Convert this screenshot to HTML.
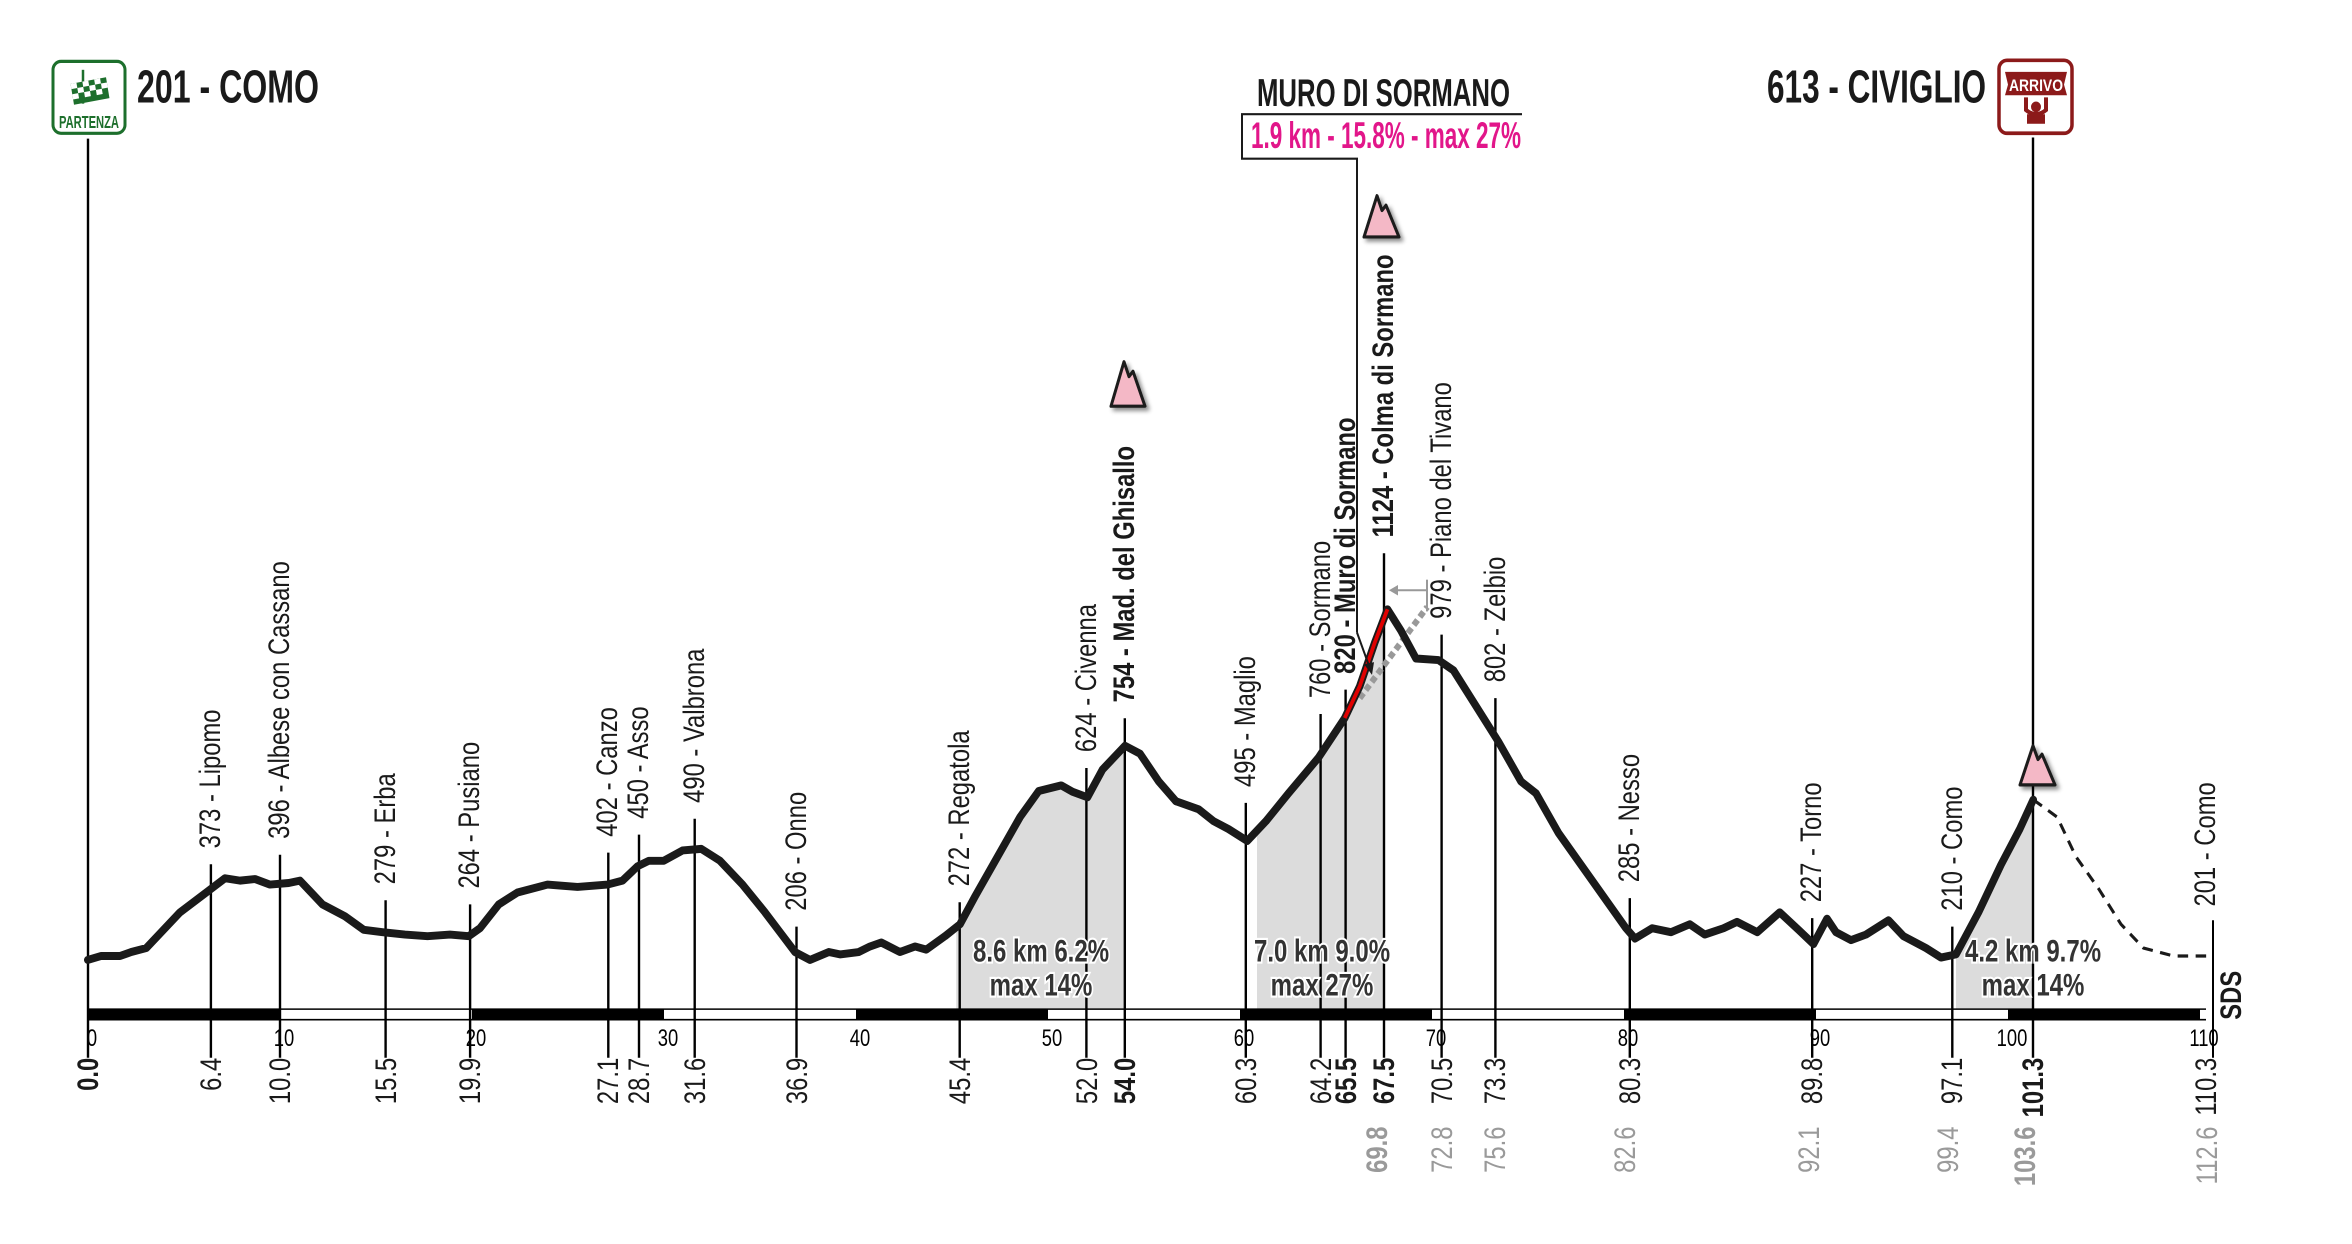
<!DOCTYPE html>
<html><head><meta charset="utf-8"><style>
html,body{margin:0;padding:0;background:#fff;}
svg{display:block;}
text{font-family:"Liberation Sans",sans-serif;}
</style></head><body>
<svg width="2352" height="1244" viewBox="0 0 2352 1244" xmlns="http://www.w3.org/2000/svg">
<defs>
<filter id="sh" x="-30%" y="-30%" width="180%" height="180%"><feDropShadow dx="3" dy="3" stdDeviation="2" flood-color="#000" flood-opacity="0.45"/></filter>
</defs>
<g transform="scale(1,1.0578)">

<!-- gray fills -->
<g fill="#dcdcdc">
<polygon transform="scale(0.75)" points="1275,1163 1280,1165 1300,1130 1330,1080 1360,1030 1385,997 1415,990 1430,998 1450,1005 1470,970 1498,940 1498,1272 1275,1272"/>
<polygon transform="translate(1176,0) scale(0.75)" points="108,1048 120,1035 150,1000 190,955 225,905 245,865 265,810 278,772 278,1272 108,1272"/>
<polygon transform="translate(1176,0) scale(0.75)" points="1040,1203 1070,1150 1100,1090 1125,1045 1143,1008 1143,1272 1040,1272"/>
</g>

<!-- bar -->
<line x1="88" y1="954" x2="2206" y2="954" stroke="#000" stroke-width="1.5"/>
<line x1="88" y1="964" x2="2206" y2="964" stroke="#000" stroke-width="1.5"/>
<g fill="#000">
<rect x="88" y="954" width="192" height="10"/>
<rect x="472" y="954" width="192" height="10"/>
<rect x="856" y="954" width="192" height="10"/>
<rect x="1240" y="954" width="192" height="10"/>
<rect x="1624" y="954" width="192" height="10"/>
<rect x="2008" y="954" width="192" height="10"/>
</g>
<line x1="2213" y1="870" x2="2213" y2="1000" stroke="#000" stroke-width="2"/>

<!-- km tick numbers -->
<g font-size="23" text-anchor="middle" fill="#000">
<text transform="translate(92,989) scale(0.8,1)">0</text><text transform="translate(284,989) scale(0.8,1)">10</text><text transform="translate(476,989) scale(0.8,1)">20</text>
<text transform="translate(668,989) scale(0.8,1)">30</text><text transform="translate(860,989) scale(0.8,1)">40</text><text transform="translate(1052,989) scale(0.8,1)">50</text>
<text transform="translate(1244,989) scale(0.8,1)">60</text><text transform="translate(1436,989) scale(0.8,1)">70</text><text transform="translate(1628,989) scale(0.8,1)">80</text>
<text transform="translate(1820,989) scale(0.8,1)">90</text><text transform="translate(2012,989) scale(0.8,1)">100</text><text transform="translate(2204,989) scale(0.8,1)">110</text>
</g>

<!-- vertical tick lines -->
<g stroke="#000" stroke-width="2.4">
<line x1="88" y1="131" x2="88" y2="1000"/>
<line x1="210.9" y1="817" x2="210.9" y2="1000"/>
<line x1="280" y1="808" x2="280" y2="1000"/>
<line x1="385.6" y1="851" x2="385.6" y2="1000"/>
<line x1="470.1" y1="855" x2="470.1" y2="1000"/>
<line x1="608.3" y1="806" x2="608.3" y2="1000"/>
<line x1="639" y1="789" x2="639" y2="1000"/>
<line x1="694.7" y1="774" x2="694.7" y2="1000"/>
<line x1="796.5" y1="876" x2="796.5" y2="1000"/>
<line x1="959.7" y1="853" x2="959.7" y2="1000"/>
<line x1="1086.4" y1="726" x2="1086.4" y2="1000"/>
<line x1="1124.8" y1="679" x2="1124.8" y2="1000"/>
<line x1="1245.8" y1="759" x2="1245.8" y2="1000"/>
<line x1="1320.6" y1="675" x2="1320.6" y2="1000"/>
<line x1="1345.6" y1="652" x2="1345.6" y2="1000"/>
<line x1="1384" y1="523" x2="1384" y2="1000"/>
<line x1="1441.6" y1="600" x2="1441.6" y2="1000"/>
<line x1="1495.4" y1="660" x2="1495.4" y2="1000"/>
<line x1="1629.8" y1="849" x2="1629.8" y2="1000"/>
<line x1="1812.2" y1="868" x2="1812.2" y2="1000"/>
<line x1="1952.3" y1="876" x2="1952.3" y2="1000"/>
<line x1="2033" y1="130" x2="2033" y2="1000"/>
</g>

<!-- gray dotted bypass and arrow -->
<line transform="translate(1176,0) scale(0.75)" x1="245" y1="880" x2="335" y2="765" stroke="#999" stroke-width="8" stroke-dasharray="8,5"/>
<g stroke="#999" stroke-width="2" fill="none">
<line x1="1391" y1="558" x2="1427" y2="558"/>
<line x1="1427" y1="548" x2="1427" y2="578"/>
</g>
<polygon points="1389,558 1398,553 1398,563" fill="#999"/>

<!-- profile -->
<g fill="none" stroke="#1a1a1a" stroke-width="10" stroke-linejoin="round" stroke-linecap="round">
<polyline transform="scale(0.75)" points="117,1210 135,1205 160,1205 175,1200 195,1195 215,1175 240,1150 275,1125 300,1107 320,1110 340,1108 360,1115 385,1113 400,1110 430,1140 460,1155 485,1172 510,1175 540,1178 570,1180 600,1178 625,1180 640,1170 665,1140 690,1125 730,1115 770,1118 810,1115 830,1110 850,1092 865,1085 885,1085 910,1072 935,1070 960,1085 990,1115 1020,1150 1040,1175 1060,1200 1080,1210 1105,1200 1120,1203 1145,1200 1160,1193 1175,1188 1200,1200 1220,1193 1235,1197 1260,1180 1280,1165 1300,1130 1330,1080 1360,1030 1385,997 1415,990 1430,998 1450,1005 1470,970 1500,940 1520,950 1545,985 1568,1010"/>
<polyline transform="translate(1176,0) scale(0.75)" points="0,1010 30,1020 50,1035 70,1045 95,1060 120,1035 150,1000 190,955 225,905 245,865 265,810 282,768 300,795 320,830 350,832 370,845 400,890 430,935 460,985 480,1000 510,1050 540,1090 570,1130 600,1170 612,1183 635,1170 660,1175 685,1165 705,1178 730,1170 748,1162 775,1175 805,1150 830,1172 850,1190 868,1158 880,1175 900,1185 920,1178 950,1160 970,1180 1000,1195 1020,1207 1040,1203 1070,1150 1100,1090 1125,1045 1143,1008"/>
</g>
<polyline transform="translate(1176,0) scale(0.75)" points="1143,1008 1175,1030 1200,1080 1230,1120 1260,1165 1290,1195 1330,1205 1380,1205" fill="none" stroke="#1a1a1a" stroke-width="4" stroke-dasharray="14,10"/>
<polyline transform="translate(1176,0) scale(0.75)" points="225,905 245,865 265,810 282,768" fill="none" stroke="#e00000" stroke-width="5"/>

<!-- climb boxes text -->
<g font-size="30" font-weight="bold" text-anchor="middle" fill="#333" stroke="#fff" stroke-width="4" paint-order="stroke">
<text transform="translate(1041,909) scale(0.8,1)">8.6 km 6.2%</text>
<text transform="translate(1041,941) scale(0.8,1)">max  14%</text>
<text transform="translate(1322,909) scale(0.8,1)">7.0 km 9.0%</text>
<text transform="translate(1322,941) scale(0.8,1)">max  27%</text>
<text transform="translate(2033,909) scale(0.8,1)">4.2 km 9.7%</text>
<text transform="translate(2033,941) scale(0.8,1)">max  14%</text>
</g>

<!-- place labels -->
<g font-size="30" fill="#1a1a1a">
<text transform="translate(220,802) rotate(-90) scale(0.75,1)">373 - Lipomo</text>
<text transform="translate(289,793) rotate(-90) scale(0.75,1)">396 - Albese con Cassano</text>
<text transform="translate(395,836) rotate(-90) scale(0.75,1)">279 - Erba</text>
<text transform="translate(479,840) rotate(-90) scale(0.75,1)">264 - Pusiano</text>
<text transform="translate(617,791) rotate(-90) scale(0.75,1)">402 - Canzo</text>
<text transform="translate(648,774) rotate(-90) scale(0.75,1)">450 - Asso</text>
<text transform="translate(704,759) rotate(-90) scale(0.75,1)">490 - Valbrona</text>
<text transform="translate(806,861) rotate(-90) scale(0.75,1)">206 - Onno</text>
<text transform="translate(969,838) rotate(-90) scale(0.75,1)">272 - Regatola</text>
<text transform="translate(1096,711) rotate(-90) scale(0.75,1)">624 - Civenna</text>
<text transform="translate(1134,664) rotate(-90) scale(0.75,1)" font-weight="bold">754 - Mad. del Ghisallo</text>
<text transform="translate(1255,744) rotate(-90) scale(0.75,1)">495 - Maglio</text>
<text transform="translate(1330,660) rotate(-90) scale(0.75,1)">760 - Sormano</text>
<text transform="translate(1355,637) rotate(-90) scale(0.75,1)" font-weight="bold">820 - Muro di Sormano</text>
<text transform="translate(1393,508) rotate(-90) scale(0.75,1)" font-weight="bold">1124 - Colma di Sormano</text>
<text transform="translate(1451,585) rotate(-90) scale(0.75,1)">979 - Piano del Tivano</text>
<text transform="translate(1505,645) rotate(-90) scale(0.75,1)">802 - Zelbio</text>
<text transform="translate(1639,834) rotate(-90) scale(0.75,1)">285 - Nesso</text>
<text transform="translate(1821,853) rotate(-90) scale(0.75,1)">227 - Torno</text>
<text transform="translate(1962,861) rotate(-90) scale(0.75,1)">210 - Como</text>
<text transform="translate(2215,857) rotate(-90) scale(0.75,1)">201 - Como</text>
<text transform="translate(2241,964) rotate(-90) scale(0.75,1)" font-weight="bold">SDS</text>
</g>

<!-- km labels -->
<g font-size="30" fill="#1a1a1a" text-anchor="end">
<text transform="translate(98,1000) rotate(-90) scale(0.75,1)" font-weight="bold">0.0</text>
<text transform="translate(221,1000) rotate(-90) scale(0.75,1)">6.4</text>
<text transform="translate(290,1000) rotate(-90) scale(0.75,1)">10.0</text>
<text transform="translate(396,1000) rotate(-90) scale(0.75,1)">15.5</text>
<text transform="translate(480,1000) rotate(-90) scale(0.75,1)">19.9</text>
<text transform="translate(618,1000) rotate(-90) scale(0.75,1)">27.1</text>
<text transform="translate(649,1000) rotate(-90) scale(0.75,1)">28.7</text>
<text transform="translate(705,1000) rotate(-90) scale(0.75,1)">31.6</text>
<text transform="translate(807,1000) rotate(-90) scale(0.75,1)">36.9</text>
<text transform="translate(970,1000) rotate(-90) scale(0.75,1)">45.4</text>
<text transform="translate(1097,1000) rotate(-90) scale(0.75,1)">52.0</text>
<text transform="translate(1135,1000) rotate(-90) scale(0.75,1)" font-weight="bold">54.0</text>
<text transform="translate(1256,1000) rotate(-90) scale(0.75,1)">60.3</text>
<text transform="translate(1331,1000) rotate(-90) scale(0.75,1)">64.2</text>
<text transform="translate(1356,1000) rotate(-90) scale(0.75,1)" font-weight="bold">65.5</text>
<text transform="translate(1394,1000) rotate(-90) scale(0.75,1)" font-weight="bold">67.5</text>
<text transform="translate(1452,1000) rotate(-90) scale(0.75,1)">70.5</text>
<text transform="translate(1505,1000) rotate(-90) scale(0.75,1)">73.3</text>
<text transform="translate(1640,1000) rotate(-90) scale(0.75,1)">80.3</text>
<text transform="translate(1822,1000) rotate(-90) scale(0.75,1)">89.8</text>
<text transform="translate(1962,1000) rotate(-90) scale(0.75,1)">97.1</text>
<text transform="translate(2043,1000) rotate(-90) scale(0.75,1)" font-weight="bold">101.3</text>
<text transform="translate(2216,1000) rotate(-90) scale(0.75,1)">110.3</text>
</g>
<g font-size="30" fill="#9a9a9a" text-anchor="end">
<text transform="translate(1387,1065) rotate(-90) scale(0.75,1)" font-weight="bold">69.8</text>
<text transform="translate(1452,1065) rotate(-90) scale(0.75,1)">72.8</text>
<text transform="translate(1505,1065) rotate(-90) scale(0.75,1)">75.6</text>
<text transform="translate(1635,1065) rotate(-90) scale(0.75,1)">82.6</text>
<text transform="translate(1819,1065) rotate(-90) scale(0.75,1)">92.1</text>
<text transform="translate(1958,1065) rotate(-90) scale(0.75,1)">99.4</text>
<text transform="translate(2035,1065) rotate(-90) scale(0.75,1)" font-weight="bold">103.6</text>
<text transform="translate(2217,1065) rotate(-90) scale(0.75,1)">112.6</text>
</g>

<!-- mountain icons -->
<g fill="#f4b8c6" stroke="#1a1a1a" stroke-width="3" stroke-linejoin="round" filter="url(#sh)">
<polygon points="1111,384 1124,342 1129,356 1133,351 1145,384"/>
<polygon points="1364,224 1377,185 1382,199 1386,194 1399,224"/>
<polygon points="2020,742 2033,705 2038,718 2042,713 2055,742"/>
</g>

<!-- headers -->
<text x="137" y="97" font-size="44" font-weight="bold" fill="#1a1a1a" textLength="182" lengthAdjust="spacingAndGlyphs">201 - COMO</text>
<text x="1767" y="97" font-size="44" font-weight="bold" fill="#1a1a1a" textLength="219" lengthAdjust="spacingAndGlyphs">613 - CIVIGLIO</text>
<text x="1257" y="100" font-size="37" font-weight="bold" fill="#1a1a1a" textLength="253" lengthAdjust="spacingAndGlyphs">MURO DI SORMANO</text>
<polyline points="1522,108 1242,108 1242,150 1357,150 1357,598" fill="none" stroke="#1a1a1a" stroke-width="2"/>
<polyline points="1357,598 1370,632" fill="none" stroke="#1a1a1a" stroke-width="2"/>
<polygon points="1372,638 1364,628 1374,626" fill="#1a1a1a"/>
<text x="1251" y="140" font-size="35" font-weight="bold" fill="#e2168a" textLength="270" lengthAdjust="spacingAndGlyphs">1.9 km - 15.8% - max  27%</text>

<!-- partenza icon -->
<rect x="53" y="58" width="72" height="68" rx="8" fill="#fff" stroke="#1d6f2c" stroke-width="3"/>
<line x1="83" y1="66" x2="83" y2="98" stroke="#1d6f2c" stroke-width="2.5"/>
<rect x="72" y="76" width="36" height="20" fill="#1d6f2c" transform="rotate(-10 90 86)"/>
<g fill="#fff" transform="rotate(-10 90 86)"><rect x="72" y="76" width="6" height="5"/><rect x="84" y="76" width="6" height="5"/><rect x="96" y="76" width="6" height="5"/><rect x="78" y="81" width="6" height="5"/><rect x="90" y="81" width="6" height="5"/><rect x="102" y="81" width="6" height="5"/><rect x="72" y="86" width="6" height="5"/><rect x="84" y="86" width="6" height="5"/><rect x="96" y="86" width="6" height="5"/></g>
<text x="89" y="121" font-size="17" font-weight="bold" fill="#1d6f2c" text-anchor="middle" textLength="60" lengthAdjust="spacingAndGlyphs">PARTENZA</text>

<!-- arrivo icon -->
<rect x="1999" y="57" width="73" height="69" rx="8" fill="#fff" stroke="#8c1a1a" stroke-width="3.5"/>
<path d="M2005,68 L2067,68 L2064,80 L2067,90 L2005,90 L2008,80 Z" fill="#8c1a1a"/>
<text x="2036" y="86" font-size="16" font-weight="bold" fill="#fff" text-anchor="middle" textLength="54" lengthAdjust="spacingAndGlyphs">ARRIVO</text>
<path d="M2026,92 L2026,104 Q2036,112 2046,104 L2046,92" fill="none" stroke="#8c1a1a" stroke-width="4"/>
<circle cx="2036" cy="101" r="5" fill="#8c1a1a"/>
<rect x="2027" y="108" width="18" height="9" fill="#8c1a1a"/>
</g>
</svg>
</body></html>
